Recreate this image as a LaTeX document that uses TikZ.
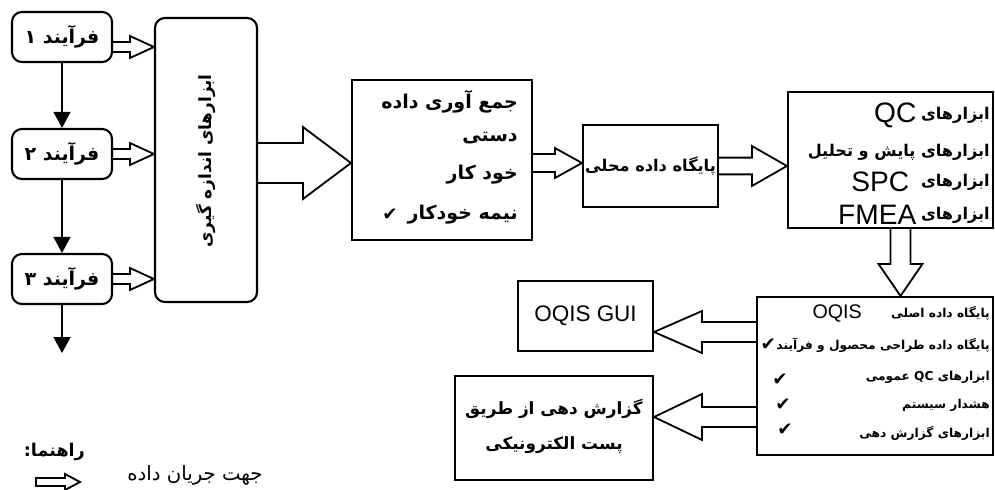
\documentclass[tikz,border=0pt]{standalone}
\usepackage{fontspec}
\usepackage{tikz}
\usetikzlibrary{calc,arrows.meta,positioning}
\TeXXeTstate=1
\newfontfamily\fafont[Script=Arabic]{DejaVu Sans}
\newfontfamily\latfont{Liberation Sans}
\newcommand{\rtl}[1]{{\fafont\bfseries\beginR #1\endR}}
\newcommand{\rtlthin}[1]{{\fafont\beginR #1\endR}}
% hollow block arrow: [extra path]{start}{tip}{half shaft}{half head}{head length}
\newcommand\flowarrow[6][]{%
  \coordinate (fh) at ($(#3)!#6!(#2)$);
  \draw[flow] ($(#2)!#4!90:(#3)$) -- ($(fh)!#4!-90:(#2)$) -- ($(fh)!#5!-90:(#2)$) -- (#3)
    -- ($(fh)!#5!90:(#2)$) -- ($(fh)!#4!90:(#2)$) -- ($(#2)!#4!-90:(#3)$) #1;
}
\tikzset{
  proc/.style={draw, line width=1.5pt, rounded corners=7pt, minimum width=2.5cm, minimum height=1.25cm, font=\fontsize{13.5}{15}\selectfont},
  blk/.style={draw, line width=1.5pt, inner sep=0pt},
  txt/.style={inner sep=0pt, font=\fontsize{12}{14}\selectfont},
  small/.style={inner sep=0pt, font=\fontsize{8.7}{10}\selectfont},
  big/.style={inner sep=0pt, font=\latfont\fontsize{20}{22}\selectfont},
  tick/.style={inner sep=0pt, font=\fafont\fontsize{13}{14}\selectfont},
  flow/.style={line width=1.3pt, line join=miter},
  down/.style={line width=1.5pt, -{Triangle[length=0.4cm,width=0.42cm]}},
}
\begin{document}
\begin{tikzpicture}
\useasboundingbox (0,0) rectangle (24.875,12.225);
% processes
\node[proc] (p1) at (1.55,11.3) {\rtl{فرآیند ۱}};
\node[proc] (p2) at (1.55,8.375) {\rtl{فرآیند ۲}};
\node[proc] (p3) at (1.55,5.25) {\rtl{فرآیند ۳}};
\coordinate (pout) at (1.55,3.4);
\draw[down] (p1) -- (p2);
\draw[down] (p2) -- (p3);
\draw[down] (p3) -- (pout);
% measuring tools
\node[blk, rounded corners=7pt, minimum width=2.55cm, minimum height=7.1cm] (meas) at (5.15,8.225) {};
\node[txt, rotate=90] (measlbl) at (5.15,8.2) {\rtl{ابزارهای اندازه گیری}};
\coordinate (a1) at ($(p1.east)+(0,-0.25)$);
\coordinate (b1) at (meas.west |- a1);
\coordinate (b2) at (meas.west |- p2.east);
\coordinate (b3) at (meas.west |- p3.east);
\flowarrow{a1}{b1}{0.125cm}{0.275cm}{0.6cm}
\flowarrow{p2.east}{b2}{0.125cm}{0.275cm}{0.6cm}
\flowarrow{p3.east}{b3}{0.125cm}{0.275cm}{0.6cm}
% data collection
\node[blk, minimum width=4.5cm, minimum height=4cm] (data) at (11.05,8.225) {};
\begin{scope}[every node/.append style={txt, anchor=east, font=\fontsize{13.5}{15}\selectfont}]
\node (d1) at (12.95,9.675) {\rtl{جمع  آوری  داده}};
\node (d2) at (12.95,8.775) {\rtl{دستی}};
\node (d3) at (12.95,7.85) {\rtl{خود کار}};
\node (d4) at (12.95,6.85) {\rtl{نیمه خودکار}};
\end{scope}
\node[tick] (dtick) at (9.75,6.85) {✔};
\coordinate (m1) at ($(meas.east)+(0,-0.075)$);
\coordinate (m2) at (data.west |- m1);
\flowarrow{m1}{m2}{0.5cm}{0.9cm}{1.2cm}
% local database
\node[blk, minimum width=3.375cm, minimum height=2.05cm] (local) at (16.2625,8.075) {};
\node[txt, font=\fontsize{11.5}{13}\selectfont] (locallbl) at (local) {\rtl{پایگاه داده محلی}};
\coordinate (c1) at ($(data.east)+(0,-0.075)$);
\coordinate (c2) at (local.west |- c1);
\flowarrow{c1}{c2}{0.225cm}{0.375cm}{0.675cm}
% tools
\node[blk, minimum width=5.125cm, minimum height=3.4cm] (tools) at (22.2625,8.225) {};
\begin{scope}[every node/.append style={txt, anchor=east, font=\fontsize{11.5}{13}\selectfont}]
\node (t1) at (24.75,9.35) {\rtl{ابزارهای}};
\node (t2) at (24.75,8.425) {\rtl{ابزارهای پایش و تحلیل}};
\node (t3) at (24.75,7.675) {\rtl{ابزارهای}};
\node (t4) at (24.75,6.85) {\rtl{ابزارهای}};
\end{scope}
\node[big, left=3pt of t1] (qc) {QC};
\node[big, left=8pt of t3] (spc) {SPC};
\node[big, left=3pt of t4] (fmea) {FMEA};
\coordinate (g1) at (tools.west |- local.east);
\flowarrow{local.east}{g1}{0.21cm}{0.5cm}{0.875cm}
% OQIS
\node[blk, minimum width=5.9cm, minimum height=3.95cm] (oqis) at (21.875,2.825) {};
\node[small, anchor=east] (o1) at (24.75,4.4) {\rtl{پایگاه داده اصلی}};
\node[inner sep=0pt, font=\latfont\fontsize{14}{16}\selectfont] (oqislbl) at (20.93,4.4) {OQIS};
\node[small, anchor=east] (o2) at (24.75,3.6) {\rtl{پایگاه داده طراحی محصول و فرآیند}};
\node[tick, left=0pt of o2] (otick2) {✔};
\node[small, anchor=east] (o3) at (24.75,2.8) {\rtl{ابزارهای QC عمومی}};
\node[small, anchor=east] (o4) at (24.75,2.1) {\rtl{هشدار سیستم}};
\node[small, anchor=east] (o5) at (24.75,1.4) {\rtl{ابزارهای گزارش دهی}};
\node[tick] (otick3) at (19.5,2.725) {✔};
\node[tick] (otick4) at (19.575,2.1) {✔};
\node[tick] (otick5) at (19.625,1.475) {✔};
\coordinate (h1) at ($(tools.south)+(0.25,0)$);
\coordinate (h2) at (oqis.north -| h1);
\flowarrow{h1}{h2}{0.25cm}{0.55cm}{0.8cm}
% outputs
\node[blk, minimum width=3.375cm, minimum height=1.75cm, font=\latfont\fontsize{16}{18}\selectfont] (gui) at (14.6375,4.325) {OQIS GUI};
\node[blk, minimum width=4.95cm, minimum height=2.6cm] (report) at (13.85,1.525) {};
\node[txt] (r1) at (13.85,2.0) {\rtl{گزارش دهی از طریق}};
\node[txt] (r2) at (13.85,1.1) {\rtl{پست الکترونیکی}};
\coordinate (e1) at ($(oqis.west)+(0,1.1)$);
\coordinate (e2) at (gui.east |- e1);
\flowarrow{e1}{e2}{0.25cm}{0.525cm}{1.2cm}
\coordinate (f1) at ($(oqis.west)+(0,-1.025)$);
\coordinate (f2) at (report.east |- f1);
\flowarrow{f1}{f2}{0.25cm}{0.575cm}{1.2cm}
% legend
\node[txt, font=\fontsize{12.5}{14}\selectfont] (key) at (1.36,0.925) {\rtl{راهنما:}};
\coordinate (k1) at (0.9,0.175);
\coordinate (k2) at (2.0,0.175);
\flowarrow[-- cycle]{k1}{k2}{0.1cm}{0.2cm}{0.375cm}
\node[inner sep=0pt, font=\fontsize{14}{16}\selectfont] (keytext) at (4.875,0.35) {\rtlthin{جهت جریان داده}};
\end{tikzpicture}
\end{document}
